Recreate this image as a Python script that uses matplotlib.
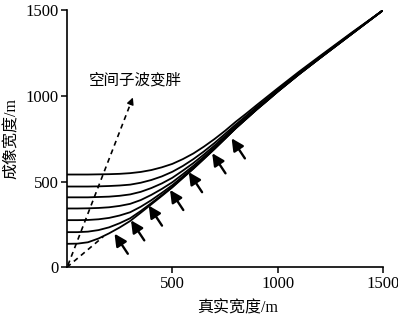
import numpy as np
import matplotlib
matplotlib.use("Agg")
import matplotlib.pyplot as plt

# true width (x) shared by all curves
true_w = [0, 50, 100, 150, 200, 250, 300, 350, 400, 450, 500, 550, 600, 650,
          700, 750, 800, 850, 900, 950, 1000, 1050, 1100, 1200, 1350, 1500]

# imaging width, one list per wavelet size (bottom -> top)
img_w1 = [137, 138, 146, 168, 198, 232, 270, 318, 367, 416, 466, 521, 575, 632,
          690, 750, 810, 865, 920, 972, 1025, 1075, 1125, 1220, 1360, 1500]
img_w2 = [205, 205, 208, 217, 233, 257, 286, 328, 374, 421, 469, 523, 577, 634,
          691, 750, 810, 865, 920, 972, 1025, 1075, 1125, 1220, 1360, 1500]
img_w3 = [275, 275, 276, 280, 288, 302, 321, 353, 391, 434, 479, 530, 582, 638,
          694, 753, 811, 866, 921, 973, 1025, 1075, 1125, 1220, 1360, 1500]
img_w4 = [343, 343, 344, 346, 350, 358, 370, 392, 422, 457, 496, 543, 592, 645,
          700, 758, 816, 870, 924, 975, 1027, 1077, 1126, 1221, 1361, 1500]
img_w5 = [408, 408, 408, 410, 412, 417, 425, 440, 462, 489, 522, 564, 608, 658,
          710, 766, 823, 876, 929, 979, 1031, 1081, 1131, 1226, 1363, 1500]
img_w6 = [471, 471, 471, 472, 474, 477, 482, 493, 509, 530, 557, 591, 631, 676,
          725, 778, 832, 883, 935, 985, 1036, 1085, 1134, 1227, 1365, 1500]
img_w7 = [541, 541, 541, 542, 543, 545, 549, 556, 567, 583, 603, 631, 664, 704,
          748, 796, 848, 896, 946, 995, 1044, 1092, 1140, 1232, 1368, 1500]
curves = [img_w1, img_w2, img_w3, img_w4, img_w5, img_w6, img_w7]

# short dashed piece near the origin
dash_x = [0, 172]
dash_y = [0, 178]

# dashed arrow "wavelet gets fatter"
fat_x = [5, 313]
fat_y = [12, 990]

# arrow tips pointing at the envelope
tip_x = [226, 304, 388, 489, 578, 689, 781]
tip_y = [196, 274, 360, 451, 555, 665, 752]
tail_dx = 63
tail_dy = -117

serif = ["Liberation Serif", "Noto Sans CJK SC"]

fig = plt.figure(figsize=(3.98, 3.18), dpi=100)
ax = fig.add_axes([0.168, 0.1594, 0.795, 0.809])

for y in curves:
    ax.plot(true_w, y, color="k", lw=1.3, solid_capstyle="round")

ax.plot(dash_x, dash_y, color="k", lw=1.2, ls=(0, (3, 2.5)))
ax.plot(fat_x[:1] + [fat_x[1] - 6], fat_y[:1] + [fat_y[1] - 19], color="k", lw=1.2, ls=(0, (3, 2.5)))
ax.annotate("", xy=(fat_x[1], fat_y[1]), xytext=(fat_x[1] - 12, fat_y[1] - 38),
            arrowprops=dict(arrowstyle="-|>", color="k", lw=1.0, mutation_scale=10,
                            shrinkA=0, shrinkB=0))

for tx, ty in zip(tip_x, tip_y):
    ax.annotate("", xy=(tx, ty), xytext=(tx + tail_dx, ty + tail_dy),
                arrowprops=dict(arrowstyle="-|>", color="k", lw=1.7, mutation_scale=18,
                                shrinkA=0, shrinkB=0))

ax.text(323, 1092, "空间子波变胖", ha="center", va="center", fontsize=11.2, family=serif)

ax.set_xlim(0, 1500)
ax.set_ylim(0, 1500)
ax.set_xticks([500, 1000, 1500])
ax.set_yticks([0, 500, 1000, 1500])
ax.set_xticklabels(["500", "1000", "1500"], family=serif, fontsize=12)
ax.set_yticklabels(["0", "500", "1000", "1500"], family=serif, fontsize=12)
ax.tick_params(direction="out", length=4, width=1.1, pad=2)

ax.spines["top"].set_visible(False)
ax.spines["right"].set_visible(False)
ax.spines["left"].set_linewidth(1.2)
ax.spines["bottom"].set_linewidth(1.2)

ax.set_xlabel("真实宽度/m", family=serif, fontsize=11.5)
ax.set_ylabel("成像宽度/m", family=serif, fontsize=11.5)
ax.xaxis.set_label_coords(0.54, -0.13)
ax.yaxis.set_label_coords(-0.15, 0.5)

plt.savefig("out.png", dpi=100)
